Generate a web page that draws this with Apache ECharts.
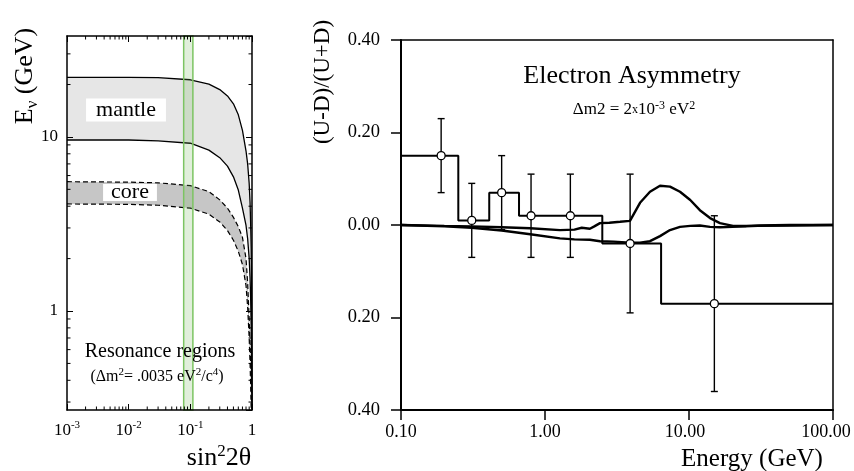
<!DOCTYPE html>
<html><head><meta charset="utf-8">
<script src="https://cdn.jsdelivr.net/npm/echarts@6/dist/echarts.min.js"></script>
<style>html,body{margin:0;padding:0;background:#fff}#c{width:854px;height:471px}</style>
</head><body><div id="c"></div>
<script>
// ---------- Left panel: resonance regions ----------
const SIN2 = [0.001,0.01,0.03,0.1,0.2,0.3,0.4,0.5,0.6,0.7,0.8,0.85,0.9,0.93,0.95,0.97,0.98,0.99,0.995,0.999];
const MANTLE_UPPER = [22.0,22.0,21.9,21.3,20.1,18.7,17.2,15.5,13.4,10.9,8.3,7.0,5.4,4.2,3.2,2.3,1.7,1.0,0.6,0.27];
const MANTLE_LOWER = [9.6,9.6,9.5,9.2,8.4,7.6,6.8,5.9,4.95,3.9,3.1,2.6,2.0,1.55,1.2,0.8,0.6,0.4,0.27,null];
const CORE_UPPER = [5.53,5.5,5.45,5.25,4.85,4.35,3.9,3.45,3.05,2.65,2.0,1.45,0.9,0.65,0.5,0.35,0.27,null,null,null];
const CORE_LOWER = [4.12,4.1,4.05,3.9,3.6,3.25,2.9,2.55,2.2,1.85,1.4,1.05,0.7,0.5,0.38,0.27,null,null,null,null];
const BAND = [0.078, 0.11];
const LEFT_X_RANGE = [0.001, 1];
const LEFT_Y_RANGE = [0.27, 38];
const MINOR_MULTS = [2,3,4,5,6,7,8,9];
const LEFT_X_DECADES = [0.001, 0.01, 0.1];
const LEFT_Y_DECADES = [0.1, 1, 10];

// ---------- Right panel: electron asymmetry ----------
const RIGHT_X_RANGE = [0.1, 100];
const RIGHT_Y_RANGE = [-0.4, 0.4];
const BIN_EDGES = [0.1, 0.25, 0.41, 0.66, 2.5, 6.4, 100];
const BIN_VALUES = [0.15, 0.01, 0.07, 0.02, -0.04, -0.17];
const POINT_E = [0.19, 0.31, 0.50, 0.80, 1.5, 3.9, 15];
const POINT_A = [0.15, 0.01, 0.07, 0.02, 0.02, -0.04, -0.17];
const POINT_ERR = [0.08, 0.08, 0.08, 0.09, 0.09, 0.15, 0.19];
const E_CURVE_A = [0.1,0.2,0.31,0.5,0.79,1.27,1.6,1.8,2.05,2.2,2.41,2.8,3.32,3.89,4.57,5.36,6.29,7.38,8.66,10.2,11.9,14.0,16.4,20.2,25,31,50,100];
const ASYM_A    = [0,-0.002,-0.003,-0.005,-0.007,-0.011,-0.010,-0.006,-0.008,-0.003,0.004,0.005,0.007,0.009,0.048,0.072,0.085,0.083,0.072,0.054,0.032,0.015,0.004,-0.002,-0.002,-0.001,0,0];
const E_CURVE_B = [0.1,0.2,0.31,0.5,0.79,1.27,1.6,2.05,2.41,3.0,3.89,4.57,5.36,6.29,7.38,8.66,10.2,11.9,14.0,16.4,20,30,50,100];
const ASYM_B    = [0,-0.003,-0.006,-0.012,-0.02,-0.029,-0.031,-0.032,-0.035,-0.036,-0.038,-0.038,-0.035,-0.024,-0.011,-0.004,-0.002,-0.001,-0.004,-0.005,-0.004,-0.002,-0.001,0];

const FONT = 'Liberation Serif';
const isPow10 = v => Math.abs(Math.log10(v) - Math.round(Math.log10(v))) < 1e-6;

const minorX = [];
LEFT_X_DECADES.forEach(d => MINOR_MULTS.forEach(m => minorX.push([d * m, 1])));
const minorY = [];
LEFT_Y_DECADES.forEach(d => MINOR_MULTS.forEach(m => {
  const v = d * m; if (v > LEFT_Y_RANGE[0] && v < LEFT_Y_RANGE[1]) minorY.push([0.01, v]);
}));

const pair = (xs, ys) => xs.map((x, i) => [x, ys[i]]);
const stepData = BIN_EDGES.map((e, i) => [e, BIN_VALUES[Math.min(i, BIN_VALUES.length - 1)]]);

const chart = echarts.init(document.getElementById('c'), null, {renderer: 'canvas', width: 854, height: 471});

const frameLine = {onZero: false, lineStyle: {color: '#000', width: 1.5}};
const leftTick = {inside: true, length: 6, lineStyle: {color: '#000', width: 1}};

function lineSeries(xs, ys, opts) {
  return Object.assign({
    type: 'line', xAxisIndex: 0, yAxisIndex: 0, data: pair(xs, ys),
    symbol: 'none', showSymbol: false, connectNulls: false, animation: false, silent: true,
  }, opts);
}

function rightXLabel(v) {
  const s = v.toFixed(2);
  if (v >= 99) return '{s14|' + s + '}';
  if (v >= 9) return '{s8|' + s + '}';
  return s;
}

const option = {
  animation: false,
  backgroundColor: '#fff',
  textStyle: {fontFamily: FONT, color: '#000'},
  grid: [
    {left: 67, top: 36, width: 185, height: 374, containLabel: false, outerBoundsMode: 'none'},
    {left: 401, top: 40, width: 432, height: 370, containLabel: false, outerBoundsMode: 'none'}
  ],
  xAxis: [
    {gridIndex: 0, type: 'log', logBase: 10, min: LEFT_X_RANGE[0], max: LEFT_X_RANGE[1], position: 'bottom', z: 10,
     axisLine: frameLine, axisTick: leftTick, splitLine: {show: false},
     axisLabel: {margin: 10, color: '#000', fontFamily: FONT, fontSize: 17, lineHeight: 22,
       formatter: v => { if (!isPow10(v)) return ''; const e = Math.round(Math.log10(v)); return e === 0 ? '1' : '10{sup|' + e + '}'; },
       rich: {sup: {fontSize: 11, lineHeight: 12, verticalAlign: 'top', fontFamily: FONT, color: '#000'}}}},
    {gridIndex: 0, type: 'log', logBase: 10, min: LEFT_X_RANGE[0], max: LEFT_X_RANGE[1], position: 'top', z: 10,
     axisLine: frameLine, axisTick: leftTick, splitLine: {show: false}, axisLabel: {show: false}},
    {gridIndex: 1, type: 'log', logBase: 10, min: RIGHT_X_RANGE[0], max: RIGHT_X_RANGE[1], position: 'bottom', z: 10,
     axisLine: {onZero: false, lineStyle: {color: '#000', width: 2}}, axisTick: {inside: false, length: 10, lineStyle: {color: '#000', width: 1.5}},
     splitLine: {show: false},
     axisLabel: {margin: 13, color: '#000', fontFamily: FONT, fontSize: 18, formatter: rightXLabel,
       rich: {s14: {fontFamily: FONT, fontSize: 18, color: '#000', padding: [0, 14, 0, 0]},
              s8: {fontFamily: FONT, fontSize: 18, color: '#000', padding: [0, 8, 0, 0]}}}},
    {gridIndex: 1, type: 'log', logBase: 10, min: RIGHT_X_RANGE[0], max: RIGHT_X_RANGE[1], position: 'top', z: 10,
     axisLine: {onZero: false, lineStyle: {color: '#000', width: 1.5}}, axisTick: {show: false}, splitLine: {show: false}, axisLabel: {show: false}}
  ],
  yAxis: [
    {gridIndex: 0, type: 'log', logBase: 10, min: LEFT_Y_RANGE[0], max: LEFT_Y_RANGE[1], position: 'left', z: 10,
     axisLine: frameLine, axisTick: leftTick, splitLine: {show: false},
     axisLabel: {margin: 9, color: '#000', fontFamily: FONT, fontSize: 17, showMinLabel: false, showMaxLabel: false,
       formatter: v => isPow10(v) ? String(Math.round(v)) : ''}},
    {gridIndex: 0, type: 'log', logBase: 10, min: LEFT_Y_RANGE[0], max: LEFT_Y_RANGE[1], position: 'right', z: 10,
     axisLine: frameLine, axisTick: leftTick, splitLine: {show: false}, axisLabel: {show: false}},
    {gridIndex: 1, type: 'value', min: RIGHT_Y_RANGE[0], max: RIGHT_Y_RANGE[1], interval: 0.2, position: 'left', z: 10,
     axisLine: {onZero: false, lineStyle: {color: '#000', width: 2}}, axisTick: {inside: false, length: 10, lineStyle: {color: '#000', width: 1.5}},
     splitLine: {show: false},
     axisLabel: {margin: 21, color: '#000', fontFamily: FONT, fontSize: 18.5, formatter: v => Math.abs(v).toFixed(2)}},
    {gridIndex: 1, type: 'value', min: RIGHT_Y_RANGE[0], max: RIGHT_Y_RANGE[1], interval: 0.2, position: 'right', z: 10,
     axisLine: {onZero: false, lineStyle: {color: '#000', width: 1.5}}, axisTick: {show: false}, splitLine: {show: false}, axisLabel: {show: false}}
  ],
  series: [
    lineSeries(SIN2, MANTLE_UPPER, {z: 1, lineStyle: {color: '#000', width: 1.3}, areaStyle: {color: '#e6e6e6', opacity: 1}}),
    lineSeries(SIN2, MANTLE_LOWER, {z: 2, lineStyle: {color: '#000', width: 1.3}, areaStyle: {color: '#ffffff', opacity: 1}}),
    lineSeries(SIN2, CORE_UPPER, {z: 3, lineStyle: {color: '#000', width: 1.2, type: [5, 3]}, areaStyle: {color: '#c6c6c6', opacity: 1}}),
    lineSeries(SIN2, CORE_LOWER, {z: 4, lineStyle: {color: '#000', width: 1.2, type: [5, 3]}, areaStyle: {color: '#ffffff', opacity: 1}}),
    {type: 'custom', xAxisIndex: 0, yAxisIndex: 0, z: 5, silent: true, animation: false,
     data: [[BAND[0], BAND[1]]],
     renderItem: (params, api) => {
       const p0 = api.coord([api.value(0), LEFT_Y_RANGE[1]]);
       const p1 = api.coord([api.value(1), LEFT_Y_RANGE[0]]);
       return {type: 'rect', shape: {x: p0[0], y: p0[1], width: p1[0] - p0[0], height: p1[1] - p0[1]},
               style: {fill: 'rgba(120,180,90,0.22)', stroke: '#7cc462', lineWidth: 1.5}};
     }},
    {type: 'custom', xAxisIndex: 0, yAxisIndex: 0, z: 11, silent: true, animation: false, data: minorX,
     renderItem: (params, api) => {
       const v = api.value(0);
       const pb = api.coord([v, LEFT_Y_RANGE[0]]), pt = api.coord([v, LEFT_Y_RANGE[1]]);
       return {type: 'group', children: [
         {type: 'line', shape: {x1: pb[0], y1: pb[1], x2: pb[0], y2: pb[1] - 3.5}, style: {stroke: '#000', lineWidth: 1}},
         {type: 'line', shape: {x1: pt[0], y1: pt[1], x2: pt[0], y2: pt[1] + 3.5}, style: {stroke: '#000', lineWidth: 1}}]};
     }},
    {type: 'custom', xAxisIndex: 0, yAxisIndex: 0, z: 11, silent: true, animation: false, data: minorY,
     renderItem: (params, api) => {
       const v = api.value(1);
       const pl = api.coord([LEFT_X_RANGE[0], v]), pr = api.coord([LEFT_X_RANGE[1], v]);
       return {type: 'group', children: [
         {type: 'line', shape: {x1: pl[0], y1: pl[1], x2: pl[0] + 3.5, y2: pl[1]}, style: {stroke: '#000', lineWidth: 1}},
         {type: 'line', shape: {x1: pr[0], y1: pr[1], x2: pr[0] - 3.5, y2: pr[1]}, style: {stroke: '#000', lineWidth: 1}}]};
     }},
    // right panel
    {type: 'line', xAxisIndex: 2, yAxisIndex: 2, data: pair(E_CURVE_A, ASYM_A), symbol: 'none', z: 3, silent: true,
     lineStyle: {color: '#000', width: 2.4}},
    {type: 'line', xAxisIndex: 2, yAxisIndex: 2, data: pair(E_CURVE_B, ASYM_B), symbol: 'none', z: 3, silent: true,
     lineStyle: {color: '#000', width: 2.4}},
    {type: 'line', xAxisIndex: 2, yAxisIndex: 2, data: stepData, step: 'end', symbol: 'none', z: 4, silent: true,
     lineStyle: {color: '#000', width: 2}},
    {type: 'custom', xAxisIndex: 2, yAxisIndex: 2, z: 5, silent: true,
     data: POINT_E.map((e, i) => [e, POINT_A[i] - POINT_ERR[i], POINT_A[i] + POINT_ERR[i]]),
     encode: {x: 0, y: [1, 2]},
     renderItem: (params, api) => {
       const x = api.value(0);
       const lo = api.coord([x, api.value(1)]), hi = api.coord([x, api.value(2)]);
       const c = 3.5, st = {stroke: '#000', lineWidth: 1.4};
       return {type: 'group', children: [
         {type: 'line', shape: {x1: lo[0], y1: lo[1], x2: hi[0], y2: hi[1]}, style: st},
         {type: 'line', shape: {x1: lo[0] - c, y1: lo[1], x2: lo[0] + c, y2: lo[1]}, style: st},
         {type: 'line', shape: {x1: hi[0] - c, y1: hi[1], x2: hi[0] + c, y2: hi[1]}, style: st}]};
     }},
    {type: 'scatter', xAxisIndex: 2, yAxisIndex: 2, z: 6, silent: true, data: pair(POINT_E, POINT_A),
     symbol: 'circle', symbolSize: 8, itemStyle: {color: '#fff', borderColor: '#000', borderWidth: 1.3, opacity: 1}}
  ],
  graphic: [
    {type: 'text', x: 126, y: 110, z: 100, style: {text: 'mantle', fontFamily: FONT, fontSize: 22, fill: '#000',
      align: 'center', verticalAlign: 'middle', backgroundColor: '#fff', padding: [0, 10], lineHeight: 23}},
    {type: 'text', x: 130, y: 192.5, z: 100, style: {text: 'core', fontFamily: FONT, fontSize: 22, fill: '#000',
      align: 'center', verticalAlign: 'middle', backgroundColor: '#fff', padding: [0, 8], lineHeight: 17}},
    {type: 'text', x: 160, y: 352, z: 100, style: {text: 'Resonance regions', fontFamily: FONT, fontSize: 20, fill: '#000',
      align: 'center', verticalAlign: 'middle'}},
    {type: 'text', x: 157, y: 377, z: 100, style: {text: '(Δm{sup|2}= .0035 eV{sup|2}/c{sup|4})', fontFamily: FONT, fontSize: 16, lineHeight: 20, fill: '#000',
      align: 'center', verticalAlign: 'middle',
      rich: {sup: {fontFamily: FONT, fontSize: 11, lineHeight: 11, verticalAlign: 'top', fill: '#000'}}}},
    {type: 'text', x: 25, y: 76, rotation: Math.PI / 2, z: 100, style: {text: 'E{sub|ν} (GeV)', fontFamily: FONT, fontSize: 26, lineHeight: 32, fill: '#000',
      align: 'center', verticalAlign: 'middle',
      rich: {sub: {fontFamily: FONT, fontSize: 17, lineHeight: 17, verticalAlign: 'bottom', fill: '#000'}}}},
    {type: 'text', x: 219, y: 458, z: 100, style: {text: 'sin{sup|2}2θ', fontFamily: FONT, fontSize: 26, lineHeight: 30, fill: '#000',
      align: 'center', verticalAlign: 'middle',
      rich: {sup: {fontFamily: FONT, fontSize: 17, lineHeight: 17, verticalAlign: 'top', fill: '#000'}}}},
    {type: 'text', x: 323, y: 82, rotation: Math.PI / 2, z: 100, style: {text: '(U-D)/(U+D)', fontFamily: FONT, fontSize: 23, fill: '#000',
      align: 'center', verticalAlign: 'middle'}},
    {type: 'text', x: 752, y: 459, z: 100, style: {text: 'Energy (GeV)', fontFamily: FONT, fontSize: 25, fill: '#000',
      align: 'center', verticalAlign: 'middle'}},
    {type: 'text', x: 632, y: 76, z: 100, style: {text: 'Electron Asymmetry', fontFamily: FONT, fontSize: 26, fill: '#000',
      align: 'center', verticalAlign: 'middle'}},
    {type: 'text', x: 634, y: 110, z: 100, style: {text: 'Δm2 = 2{x|x}10{sup|-3} eV{sup|2}', fontFamily: FONT, fontSize: 17, lineHeight: 20, fill: '#000',
      align: 'center', verticalAlign: 'middle',
      rich: {sup: {fontFamily: FONT, fontSize: 12, lineHeight: 12, verticalAlign: 'top', fill: '#000'},
             x: {fontFamily: FONT, fontSize: 12, lineHeight: 20, verticalAlign: 'middle', fill: '#000'}}}}
  ]
};
chart.setOption(option);
</script></body></html>
